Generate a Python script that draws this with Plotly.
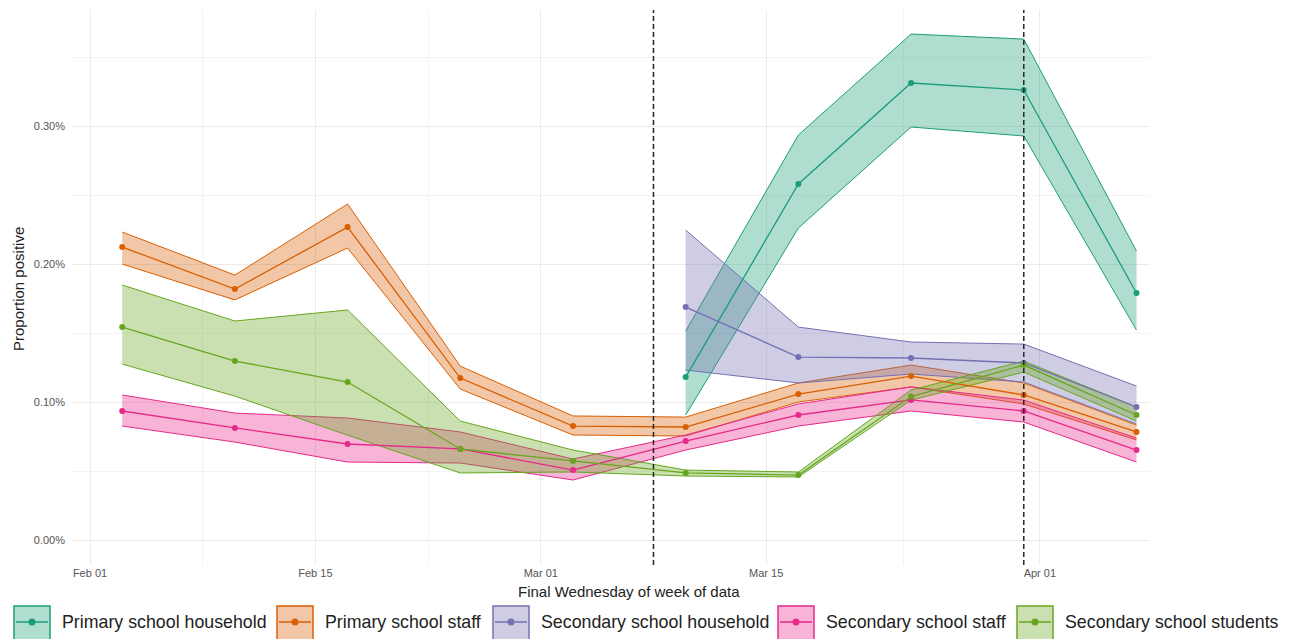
import plotly.graph_objects as go

# Weekly reporting dates (final Wednesday of each week of data)
weeks = ["2021-02-03", "2021-02-10", "2021-02-17", "2021-02-24", "2021-03-03",
         "2021-03-10", "2021-03-17", "2021-03-24", "2021-03-31", "2021-04-07"]

groups = ["Primary school household", "Primary school staff", "Secondary school household",
          "Secondary school staff", "Secondary school students"]
colors = ["#1b9e77", "#d95f02", "#7570b3", "#e7298a", "#66a61e"]

# Proportion positive (as fractions), with lower / upper interval bounds
primary_household_est = [None, None, None, None, None, 0.001181, 0.002580, 0.003312, 0.003261, 0.001790]
primary_household_lo = [None, None, None, None, None, 0.000906, 0.002261, 0.002993, 0.002928, 0.001522]
primary_household_hi = [None, None, None, None, None, 0.001514, 0.002935, 0.003667, 0.003630, 0.002094]

primary_staff_est = [0.002123, 0.001819, 0.002268, 0.001174, 0.000826, 0.000819, 0.001058, 0.001188, 0.001051, 0.000783]
primary_staff_lo = [0.002000, 0.001740, 0.002116, 0.001094, 0.000761, 0.000754, 0.001000, 0.001109, 0.000986, 0.000725]
primary_staff_hi = [0.002232, 0.001920, 0.002435, 0.001260, 0.000899, 0.000891, 0.001138, 0.001268, 0.001138, 0.000833]

secondary_household_est = [None, None, None, None, None, 0.001688, 0.001326, 0.001319, 0.001283, 0.000964]
secondary_household_lo = [None, None, None, None, None, 0.001232, 0.001138, 0.001203, 0.001145, 0.000841]
secondary_household_hi = [None, None, None, None, None, 0.002246, 0.001543, 0.001435, 0.001420, 0.001116]

secondary_staff_est = [0.000935, 0.000812, 0.000696, 0.000660, 0.000507, 0.000717, 0.000906, 0.001015, 0.000935, 0.000652]
secondary_staff_lo = [0.000826, 0.000710, 0.000565, 0.000558, 0.000435, 0.000652, 0.000826, 0.000935, 0.000855, 0.000565]
secondary_staff_hi = [0.001051, 0.000920, 0.000884, 0.000783, 0.000587, 0.000761, 0.000986, 0.001110, 0.001014, 0.000739]

secondary_students_est = [0.001543, 0.001297, 0.001145, 0.000660, 0.000573, 0.000486, 0.000471, 0.001040, 0.001268, 0.000906]
secondary_students_lo = [0.001275, 0.001043, 0.000760, 0.000486, 0.000493, 0.000464, 0.000457, 0.001014, 0.001217, 0.000862]
secondary_students_hi = [0.001848, 0.001587, 0.001667, 0.000862, 0.000652, 0.000507, 0.000493, 0.001087, 0.001297, 0.000964]

series = [
    (primary_household_est, primary_household_lo, primary_household_hi),
    (primary_staff_est, primary_staff_lo, primary_staff_hi),
    (secondary_household_est, secondary_household_lo, secondary_household_hi),
    (secondary_staff_est, secondary_staff_lo, secondary_staff_hi),
    (secondary_students_est, secondary_students_lo, secondary_students_hi),
]

# Dates marked with dashed reference lines
event_dates = ["2021-03-08", "2021-03-31"]

y_ticks = [0.0, 0.001, 0.002, 0.003]
x_ticks = ["2021-02-01", "2021-02-15", "2021-03-01", "2021-03-15", "2021-04-01"]
x_tick_labels = ["Feb 01", "Feb 15", "Mar 01", "Mar 15", "Apr 01"]
x_minor = ["2021-02-08", "2021-02-22", "2021-03-08", "2021-03-23 12:00"]


def rgba(hex_color, alpha):
    h = hex_color.lstrip("#")
    r, g, b = int(h[0:2], 16), int(h[2:4], 16), int(h[4:6], 16)
    return f"rgba({r},{g},{b},{alpha})"


def present(xs, *cols):
    keep = [i for i, v in enumerate(cols[0]) if v is not None]
    return [[xs[i] for i in keep]] + [[c[i] for i in keep] for c in cols]


fig = go.Figure()

# Interval ribbons
for (est, lo, hi), col in zip(series, colors):
    x, e, l, h = present(weeks, est, lo, hi)
    fig.add_trace(go.Scatter(x=x, y=l, mode="lines", line=dict(color=col, width=1),
                             showlegend=False, hoverinfo="skip"))
    fig.add_trace(go.Scatter(x=x, y=h, mode="lines", line=dict(color=col, width=1),
                             fill="tonexty", fillcolor=rgba(col, 0.35),
                             showlegend=False, hoverinfo="skip"))

# Point estimates
for (est, lo, hi), col, name in zip(series, colors, groups):
    x, e, l, h = present(weeks, est, lo, hi)
    fig.add_trace(go.Scatter(x=x, y=e, mode="lines+markers", name=name,
                             line=dict(color=col, width=1.3),
                             marker=dict(color=col, size=6), showlegend=False))

# Layout geometry (pixels)
W, H = 1293, 639
L, R, T, B = 72, 1150, 10, 565


def px(xp):
    return (xp - L) / (R - L)


def py(yp):
    return (B - yp) / (B - T)


shapes = []
for d in event_dates:
    shapes.append(dict(type="line", xref="x", yref="paper", x0=d, x1=d, y0=0, y1=1,
                       line=dict(color="#262626", width=1.5, dash="5px,3px")))

annotations = [
    dict(text="Final Wednesday of week of data", xref="paper", yref="paper",
         x=px(629), y=py(591), showarrow=False, xanchor="center", yanchor="middle",
         font=dict(size=15, color="#222222")),
    dict(text="Proportion positive", xref="paper", yref="paper", textangle=-90,
         x=px(18), y=py(289), showarrow=False, xanchor="center", yanchor="middle",
         font=dict(size=15, color="#222222")),
]

# Legend keys drawn along the bottom
key_left = [14, 277, 493, 778, 1017]
key_w = 36
key_top, key_bot = 606, 641
for name, col, kx in zip(groups, colors, key_left):
    shapes.append(dict(type="rect", xref="paper", yref="paper",
                       x0=px(kx), x1=px(kx + key_w), y0=py(key_bot), y1=py(key_top),
                       fillcolor=rgba(col, 0.35), line=dict(color=col, width=1.5)))
    ym = 622
    shapes.append(dict(type="line", xref="paper", yref="paper",
                       x0=px(kx + 2), x1=px(kx + key_w - 2), y0=py(ym), y1=py(ym),
                       line=dict(color=col, width=1.5)))
    cx = kx + key_w / 2
    shapes.append(dict(type="circle", xref="paper", yref="paper",
                       x0=px(cx - 3.5), x1=px(cx + 3.5), y0=py(ym + 3.5), y1=py(ym - 3.5),
                       fillcolor=col, line=dict(color=col, width=0)))
    annotations.append(dict(text=name, xref="paper", yref="paper", x=px(kx + key_w + 10), y=py(ym),
                            showarrow=False, xanchor="left", yanchor="middle",
                            font=dict(size=17.8, color="#222222")))

fig.update_layout(
    width=W, height=H,
    margin=dict(l=L, r=W - R, t=T, b=H - B),
    paper_bgcolor="white", plot_bgcolor="white",
    font=dict(family="Liberation Sans, Arial, sans-serif"),
    shapes=shapes, annotations=annotations,
    showlegend=False,
)

fig.update_xaxes(
    range=["2021-01-30 21:10", "2021-04-07 20:10"],
    tickvals=x_ticks, ticktext=x_tick_labels,
    tickfont=dict(size=11, color="#555555"),
    showgrid=True, gridcolor="#ebebeb", gridwidth=1,
    minor=dict(tickvals=x_minor, showgrid=True, gridcolor="#f3f3f3", gridwidth=0.6),
    zeroline=False, showline=False, ticks="",
)
fig.update_yaxes(
    range=[-0.000181, 0.003841],
    tickvals=y_ticks, tickformat=".2%",
    tickfont=dict(size=11, color="#555555"),
    ticklabelstandoff=6,
    showgrid=True, gridcolor="#ebebeb", gridwidth=1,
    minor=dict(dtick=0.0005, tick0=0.0005, showgrid=True, gridcolor="#f3f3f3", gridwidth=0.6),
    zeroline=False, showline=False, ticks="",
)

fig.write_html("out.html")
